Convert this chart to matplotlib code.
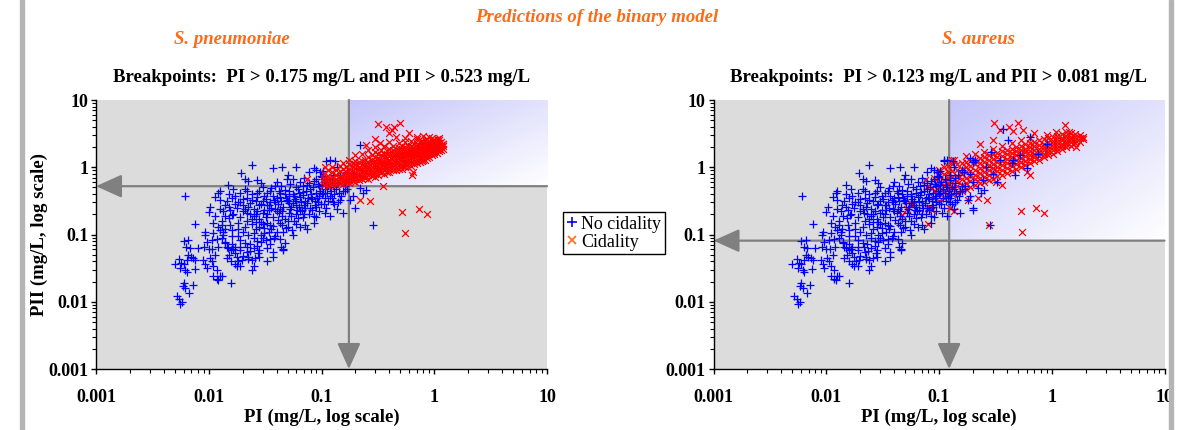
import numpy as np
import matplotlib
matplotlib.use('Agg')
import matplotlib.pyplot as plt
from matplotlib.lines import Line2D
from matplotlib.patches import Rectangle
from matplotlib.ticker import LogLocator, NullFormatter

plt.rcParams['font.family'] = ['Liberation Serif', 'DejaVu Serif']

# breakpoints (mg/L)
sp_bp_pi, sp_bp_pii = 0.175, 0.523
sa_bp_pi, sa_bp_pii = 0.123, 0.081

decade_ticks = [0.001, 0.01, 0.1, 1, 10]
decade_labels = ['0.001', '0.01', '0.1', '1', '10']

# (PI, PII) pairs in mg/L
# low-exposure "no cidality" isolates, same in both panels
shared_no_cidal = [
    (0.0052, 0.012), (0.0055, 0.011), (0.0056, 0.0093), (0.0058, 0.010),
    (0.0060, 0.019), (0.0059, 0.017), (0.0062, 0.016), (0.0072, 0.018), (0.0067, 0.0135),
    (0.0050, 0.036), (0.0055, 0.043), (0.0057, 0.038), (0.0060, 0.037), (0.0064, 0.042),
    (0.0066, 0.050), (0.0069, 0.047), (0.0062, 0.030), (0.0064, 0.028), (0.0075, 0.031),
    (0.0056, 0.032), (0.0076, 0.042), (0.0073, 0.045),
    (0.0061, 0.37),
    (0.0060, 0.079), (0.0066, 0.083), (0.0063, 0.065), (0.0068, 0.063),
    (0.0076, 0.144),
    (0.0080, 0.063), (0.0091, 0.065), (0.0092, 0.099), (0.0096, 0.077), (0.0100, 0.060),
    (0.0106, 0.083), (0.0100, 0.216),
    (0.0089, 0.042), (0.0093, 0.036), (0.0096, 0.032), (0.0102, 0.045), (0.0106, 0.040),
    (0.0110, 0.034), (0.0118, 0.030), (0.0114, 0.050),
    (0.0110, 0.024), (0.0118, 0.022), (0.0125, 0.024), (0.0121, 0.021), (0.0130, 0.024),
    (0.0158, 0.019),
    (0.0120, 0.130), (0.0125, 0.115), (0.0130, 0.138), (0.0135, 0.110), (0.0139, 0.120),
    (0.0121, 0.41), (0.0125, 0.44), (0.0149, 0.54), (0.0194, 0.81), (0.024, 1.08),
    (0.0135, 0.22), (0.0140, 0.186), (0.0152, 0.178), (0.0162, 0.196),
    (0.0140, 0.074), (0.0149, 0.063), (0.0158, 0.058), (0.0170, 0.053), (0.0152, 0.050),
    (0.0177, 0.047), (0.0183, 0.040), (0.0190, 0.034), (0.0177, 0.034), (0.0170, 0.036),
    (0.0196, 0.042),
    (0.0217, 0.066), (0.0233, 0.056), (0.0225, 0.047), (0.024, 0.042), (0.0258, 0.045),
    (0.0276, 0.053), (0.025, 0.034), (0.024, 0.030),
    (0.037, 0.047), (0.046, 0.060),
    (0.037, 0.98), (0.045, 1.0), (0.060, 1.0), (0.085, 0.98), (0.090, 0.92), (0.050, 0.77),
    (0.078, 0.85), (0.096, 0.86),
    (0.021, 0.66), (0.0225, 0.62), (0.027, 0.65), (0.029, 0.58), (0.040, 0.60), (0.049, 0.68),
    (0.053, 0.56), (0.056, 0.66), (0.065, 0.60), (0.074, 0.55), (0.085, 0.62), (0.093, 0.57),
    (0.070, 0.70), (0.044, 0.53),
    (0.0165, 0.47), (0.019, 0.42), (0.021, 0.48), (0.024, 0.40), (0.028, 0.45), (0.033, 0.42),
    (0.036, 0.49), (0.043, 0.41), (0.047, 0.46), (0.056, 0.40), (0.062, 0.48), (0.069, 0.43),
    (0.079, 0.47), (0.089, 0.41), (0.097, 0.45),
    (0.0114, 0.36), (0.0125, 0.33), (0.0145, 0.31), (0.016, 0.35), (0.018, 0.30), (0.020, 0.34),
    (0.023, 0.29), (0.027, 0.36), (0.030, 0.32), (0.035, 0.30), (0.040, 0.35), (0.044, 0.31),
    (0.049, 0.33), (0.056, 0.29), (0.065, 0.36), (0.071, 0.31), (0.082, 0.34), (0.094, 0.30),
    (0.060, 0.32), (0.052, 0.37), (0.038, 0.33),
    (0.0103, 0.26), (0.0125, 0.24), (0.0139, 0.27), (0.0155, 0.23), (0.0177, 0.25), (0.020, 0.22),
    (0.0225, 0.26), (0.025, 0.24), (0.028, 0.27), (0.031, 0.23), (0.036, 0.25), (0.040, 0.22),
    (0.046, 0.26), (0.053, 0.24), (0.060, 0.27), (0.067, 0.23), (0.079, 0.25), (0.089, 0.26),
    (0.033, 0.27), (0.043, 0.24),
    (0.0114, 0.19), (0.0165, 0.20), (0.019, 0.18), (0.0217, 0.21), (0.025, 0.19), (0.028, 0.17),
    (0.033, 0.20), (0.037, 0.18), (0.042, 0.21), (0.047, 0.17), (0.054, 0.19), (0.060, 0.20),
    (0.069, 0.18), (0.085, 0.19), (0.030, 0.21), (0.024, 0.17),
    (0.011, 0.15), (0.0155, 0.14), (0.018, 0.15), (0.021, 0.13), (0.024, 0.145), (0.028, 0.13),
    (0.033, 0.15), (0.037, 0.135), (0.043, 0.15), (0.050, 0.13), (0.060, 0.145), (0.071, 0.14),
    (0.026, 0.155), (0.031, 0.125),
    (0.0093, 0.11), (0.011, 0.105), (0.0135, 0.10), (0.016, 0.115), (0.018, 0.095), (0.020, 0.11),
    (0.0225, 0.10), (0.026, 0.12), (0.029, 0.10), (0.034, 0.11), (0.039, 0.095), (0.046, 0.11),
    (0.056, 0.10), (0.074, 0.12),
    (0.0118, 0.085), (0.014, 0.078), (0.016, 0.072), (0.019, 0.083), (0.021, 0.075), (0.025, 0.088),
    (0.029, 0.078), (0.035, 0.072), (0.043, 0.085), (0.047, 0.075), (0.032, 0.082),
    (0.0107, 0.06), (0.0145, 0.066), (0.0165, 0.06), (0.019, 0.065), (0.025, 0.062), (0.028, 0.058),
    (0.033, 0.064), (0.037, 0.055), (0.046, 0.058),
    (0.0145, 0.045), (0.0158, 0.041), (0.020, 0.048), (0.0225, 0.043), (0.028, 0.046), (0.033, 0.041),
    (0.015, 0.40), (0.017, 0.28), (0.022, 0.35), (0.026, 0.31), (0.031, 0.38), (0.034, 0.27),
    (0.039, 0.30), (0.042, 0.44), (0.048, 0.35), (0.051, 0.29), (0.058, 0.34), (0.063, 0.26),
    (0.068, 0.39), (0.075, 0.29), (0.080, 0.36), (0.087, 0.32), (0.095, 0.38), (0.099, 0.28),
    (0.020, 0.27), (0.023, 0.20), (0.027, 0.22), (0.029, 0.155), (0.032, 0.18), (0.035, 0.14),
    (0.039, 0.24), (0.045, 0.19), (0.052, 0.21), (0.057, 0.16), (0.064, 0.22), (0.072, 0.25),
    (0.077, 0.20), (0.018, 0.12), (0.022, 0.16), (0.025, 0.105), (0.030, 0.09), (0.036, 0.12),
    (0.041, 0.165), (0.048, 0.125), (0.016, 0.095), (0.019, 0.058), (0.023, 0.072), (0.027, 0.068),
    (0.031, 0.105), (0.038, 0.09), (0.044, 0.065),
    (0.013, 0.16), (0.015, 0.26), (0.017, 0.38), (0.019, 0.30), (0.021, 0.24), (0.022, 0.45),
    (0.024, 0.33), (0.026, 0.20), (0.027, 0.42), (0.029, 0.28), (0.030, 0.50), (0.032, 0.34),
    (0.034, 0.23), (0.035, 0.44), (0.037, 0.37), (0.039, 0.52), (0.041, 0.28), (0.043, 0.36),
    (0.045, 0.22), (0.047, 0.40), (0.050, 0.31), (0.052, 0.45), (0.054, 0.26), (0.057, 0.38),
    (0.059, 0.50), (0.061, 0.23), (0.063, 0.42), (0.066, 0.30), (0.068, 0.52), (0.070, 0.27),
    (0.073, 0.44), (0.076, 0.35), (0.078, 0.58), (0.081, 0.40), (0.084, 0.50), (0.087, 0.27),
    (0.090, 0.66), (0.092, 0.35), (0.095, 0.52), (0.098, 0.75), (0.100, 0.40), (0.102, 0.55),
    (0.108, 0.48), (0.112, 0.42), (0.118, 0.50), (0.122, 0.45), (0.128, 0.40), (0.135, 0.47),
    (0.142, 0.42), (0.150, 0.38), (0.160, 0.44), (0.170, 0.48), (0.115, 0.32), (0.125, 0.35),
    (0.140, 0.30), (0.105, 0.28), (0.095, 0.22), (0.085, 0.15), (0.065, 0.13), (0.055, 0.115),
    (0.040, 0.11), (0.035, 0.085), (0.027, 0.08), (0.022, 0.055), (0.017, 0.065), (0.013, 0.09),
    (0.012, 0.065), (0.030, 0.145), (0.045, 0.14), (0.050, 0.16), (0.062, 0.175), (0.070, 0.20),
    (0.082, 0.23), (0.090, 0.18),
    (0.110, 1.22), (0.118, 1.28), (0.133, 1.22), (0.137, 1.02), (0.103, 0.88), (0.126, 0.77),
    (0.146, 0.77), (0.168, 0.84), (0.19, 0.80), (0.22, 0.49), (0.25, 0.46), (0.235, 0.41),
    (0.19, 0.37), (0.18, 0.33), (0.20, 0.25), (0.285, 0.14), (0.137, 0.24), (0.155, 0.21),
    (0.118, 0.19), (0.103, 0.42), (0.108, 0.35), (0.12, 0.38), (0.126, 0.30), (0.11, 0.25),
    (0.13, 0.28), (0.107, 0.21), (0.145, 0.33), (0.155, 0.45), (0.105, 0.60), (0.115, 0.55),
    (0.13, 0.50), (0.14, 0.58), (0.16, 0.52), (0.125, 0.65), (0.10, 0.72), (0.112, 0.68),
]

# S. pneumoniae: extra no-cidality points and cidality points
sp_no_cidal = [(0.22, 2.15)]

sp_cidal = [
    (0.316, 4.4), (0.37, 4.0), (0.44, 4.0), (0.50, 4.5), (0.30, 2.6), (0.25, 2.17), (0.40, 3.2),
    (0.46, 2.85), (0.60, 3.2), (0.70, 2.85), (0.35, 0.53), (0.22, 0.33), (0.27, 0.32), (0.52, 0.215),
    (0.73, 0.24), (0.87, 0.20), (0.55, 0.107), (0.074, 0.66), (0.107, 1.02), (0.90, 2.85), (1.1, 2.7),
    (1.2, 2.2), (1.0, 1.7), (0.79, 1.3), (0.63, 0.77), (0.65, 0.86), (0.42, 3.6), (0.55, 2.7),
    (0.33, 2.3), (0.80, 2.9),
    (0.105, 0.55), (0.105, 0.62), (0.105, 0.70), (0.105, 0.80),
    (0.115, 0.53), (0.115, 0.58), (0.115, 0.66), (0.115, 0.75), (0.115, 0.90),
    (0.125, 0.56), (0.125, 0.63), (0.125, 0.72), (0.125, 0.85), (0.125, 1.0),
    (0.135, 0.54), (0.135, 0.60), (0.135, 0.68), (0.135, 0.78), (0.135, 0.92),
    (0.145, 0.58), (0.145, 0.66), (0.145, 0.74), (0.145, 0.88), (0.145, 1.05),
    (0.155, 0.56), (0.155, 0.62), (0.155, 0.70), (0.155, 0.80), (0.155, 0.95), (0.155, 1.15),
    (0.165, 0.60), (0.165, 0.68), (0.165, 0.76), (0.165, 0.86), (0.165, 1.0),
    (0.175, 0.58), (0.175, 0.65), (0.175, 0.72), (0.175, 0.82), (0.175, 0.93), (0.175, 1.1), (0.175, 1.3),
    (0.19, 0.62), (0.19, 0.70), (0.19, 0.78), (0.19, 0.88), (0.19, 1.0), (0.19, 1.15),
    (0.20, 0.60), (0.20, 0.67), (0.20, 0.75), (0.20, 0.85), (0.20, 0.96), (0.20, 1.1), (0.20, 1.25), (0.20, 1.5),
    (0.215, 0.64), (0.215, 0.72), (0.215, 0.80), (0.215, 0.90), (0.215, 1.02), (0.215, 1.2),
    (0.23, 0.66), (0.23, 0.75), (0.23, 0.84), (0.23, 0.95), (0.23, 1.08), (0.23, 1.25), (0.23, 1.6),
    (0.245, 0.70), (0.245, 0.78), (0.245, 0.88), (0.245, 1.0), (0.245, 1.12), (0.245, 1.3),
    (0.26, 0.68), (0.26, 0.76), (0.26, 0.85), (0.26, 0.95), (0.26, 1.05), (0.26, 1.2), (0.26, 1.4), (0.26, 1.8),
    (0.28, 0.74), (0.28, 0.82), (0.28, 0.92), (0.28, 1.02), (0.28, 1.15), (0.28, 1.3), (0.28, 1.5),
    (0.30, 0.72), (0.30, 0.80), (0.30, 0.90), (0.30, 1.0), (0.30, 1.1), (0.30, 1.25), (0.30, 1.4),
    (0.30, 1.7), (0.30, 2.0),
    (0.32, 0.78), (0.32, 0.88), (0.32, 0.98), (0.32, 1.1), (0.32, 1.22), (0.32, 1.38), (0.32, 1.6),
    (0.34, 0.82), (0.34, 0.92), (0.34, 1.02), (0.34, 1.15), (0.34, 1.3), (0.34, 1.5), (0.34, 1.8),
    (0.36, 0.80), (0.36, 0.90), (0.36, 1.0), (0.36, 1.12), (0.36, 1.25), (0.36, 1.4), (0.36, 1.6), (0.36, 2.1),
    (0.38, 0.86), (0.38, 0.96), (0.38, 1.08), (0.38, 1.2), (0.38, 1.35), (0.38, 1.55), (0.38, 1.75),
    (0.40, 0.85), (0.40, 0.95), (0.40, 1.05), (0.40, 1.18), (0.40, 1.3), (0.40, 1.45), (0.40, 1.65),
    (0.40, 1.9), (0.40, 2.4),
    (0.43, 0.90), (0.43, 1.0), (0.43, 1.12), (0.43, 1.25), (0.43, 1.4), (0.43, 1.6), (0.43, 1.8), (0.43, 2.1),
    (0.46, 0.92), (0.46, 1.02), (0.46, 1.15), (0.46, 1.28), (0.46, 1.45), (0.46, 1.65), (0.46, 1.85),
    (0.49, 0.95), (0.49, 1.08), (0.49, 1.2), (0.49, 1.35), (0.49, 1.5), (0.49, 1.7), (0.49, 1.95), (0.49, 2.3),
    (0.52, 0.95), (0.52, 1.06), (0.52, 1.18), (0.52, 1.32), (0.52, 1.48), (0.52, 1.65), (0.52, 1.85), (0.52, 2.1),
    (0.55, 1.0), (0.55, 1.12), (0.55, 1.25), (0.55, 1.4), (0.55, 1.56), (0.55, 1.75), (0.55, 2.0), (0.55, 2.35),
    (0.58, 1.02), (0.58, 1.15), (0.58, 1.3), (0.58, 1.45), (0.58, 1.62), (0.58, 1.82), (0.58, 2.05),
    (0.62, 1.05), (0.62, 1.2), (0.62, 1.35), (0.62, 1.5), (0.62, 1.68), (0.62, 1.88), (0.62, 2.1), (0.62, 2.45),
    (0.66, 1.1), (0.66, 1.25), (0.66, 1.4), (0.66, 1.56), (0.66, 1.75), (0.66, 1.95), (0.66, 2.2),
    (0.70, 1.15), (0.70, 1.3), (0.70, 1.45), (0.70, 1.62), (0.70, 1.8), (0.70, 2.0), (0.70, 2.25), (0.70, 2.6),
    (0.74, 1.2), (0.74, 1.35), (0.74, 1.52), (0.74, 1.7), (0.74, 1.9), (0.74, 2.1), (0.74, 2.35),
    (0.78, 1.25), (0.78, 1.4), (0.78, 1.58), (0.78, 1.76), (0.78, 1.95), (0.78, 2.15), (0.78, 2.45),
    (0.82, 1.3), (0.82, 1.46), (0.82, 1.64), (0.82, 1.82), (0.82, 2.0), (0.82, 2.22), (0.82, 2.5),
    (0.86, 1.36), (0.86, 1.52), (0.86, 1.7), (0.86, 1.88), (0.86, 2.08), (0.86, 2.3), (0.86, 2.6),
    (0.90, 1.42), (0.90, 1.58), (0.90, 1.76), (0.90, 1.95), (0.90, 2.15), (0.90, 2.4),
    (0.95, 1.5), (0.95, 1.66), (0.95, 1.84), (0.95, 2.02), (0.95, 2.22), (0.95, 2.45), (0.95, 2.7),
    (1.0, 1.56), (1.0, 1.74), (1.0, 1.92), (1.0, 2.1), (1.0, 2.3), (1.0, 2.55),
    (1.05, 1.64), (1.05, 1.82), (1.05, 2.0), (1.05, 2.2), (1.05, 2.4), (1.05, 2.65),
    (1.1, 1.72), (1.1, 1.9), (1.1, 2.08), (1.1, 2.28), (1.1, 2.5),
    (1.15, 1.8), (1.15, 1.98), (1.15, 2.16), (1.15, 2.36),
    (1.2, 1.9), (1.2, 2.06), (1.2, 2.25),
]

# S. aureus: extra no-cidality points inside the cidal cloud, and cidality points
sa_no_cidal = [
    (0.41, 2.54), (0.64, 2.8), (0.19, 1.38), (0.21, 1.28), (0.20, 1.2), (0.29, 1.7), (0.44, 1.16),
    (0.60, 0.97), (0.47, 0.77), (0.33, 0.61), (0.245, 0.65), (0.20, 0.61), (0.20, 0.23), (0.11, 1.28),
    (0.45, 1.28), (0.37, 3.7), (0.16, 0.90), (0.26, 1.0), (0.35, 1.3), (0.52, 1.5), (0.75, 1.6),
    (0.90, 2.2), (0.30, 0.80), (0.14, 0.70), (0.17, 0.52),
]

sa_cidal = [
    (0.047, 0.195), (0.052, 0.24), (0.057, 0.28), (0.075, 0.65), (0.078, 0.51), (0.086, 0.49),
    (0.080, 0.245), (0.086, 0.23), (0.080, 0.145), (0.083, 0.25), (0.058, 0.27), (0.11, 1.0),
    (0.135, 1.27), (0.125, 0.25), (0.135, 0.22), (0.18, 0.33), (0.22, 0.35), (0.265, 0.33),
    (0.28, 0.14), (0.53, 0.22), (0.72, 0.25), (0.86, 0.21), (0.55, 0.11), (0.64, 0.77), (0.60, 0.85),
    (0.36, 0.55), (0.32, 0.60),
    (0.31, 4.5), (0.50, 4.6), (0.42, 4.0), (0.45, 3.5), (0.35, 3.6), (1.3, 4.3), (1.43, 3.4),
    (1.85, 2.7), (1.55, 2.2), (1.65, 2.0), (0.23, 2.2), (0.30, 2.5), (0.25, 1.7), (0.56, 3.6),
    (0.70, 3.2), (0.90, 3.0), (1.1, 3.3),
    (0.09, 0.35), (0.09, 0.45), (0.09, 0.55), (0.09, 0.70),
    (0.10, 0.32), (0.10, 0.42), (0.10, 0.50), (0.10, 0.60), (0.10, 0.75), (0.10, 0.90),
    (0.11, 0.35), (0.11, 0.45), (0.11, 0.55), (0.11, 0.65), (0.11, 0.80),
    (0.12, 0.38), (0.12, 0.48), (0.12, 0.58), (0.12, 0.70), (0.12, 0.85), (0.12, 1.05),
    (0.13, 0.40), (0.13, 0.50), (0.13, 0.60), (0.13, 0.72), (0.13, 0.88), (0.13, 1.1), (0.13, 1.3),
    (0.145, 0.42), (0.145, 0.52), (0.145, 0.62), (0.145, 0.75), (0.145, 0.90), (0.145, 1.1),
    (0.16, 0.45), (0.16, 0.55), (0.16, 0.66), (0.16, 0.80), (0.16, 0.95), (0.16, 1.15),
    (0.175, 0.48), (0.175, 0.58), (0.175, 0.70), (0.175, 0.84), (0.175, 1.0), (0.175, 1.2), (0.175, 1.45),
    (0.19, 0.50), (0.19, 0.62), (0.19, 0.74), (0.19, 0.88), (0.19, 1.05), (0.19, 1.25),
    (0.21, 0.55), (0.21, 0.66), (0.21, 0.78), (0.21, 0.92), (0.21, 1.1), (0.21, 1.3), (0.21, 1.6),
    (0.23, 0.58), (0.23, 0.70), (0.23, 0.82), (0.23, 0.96), (0.23, 1.15), (0.23, 1.35),
    (0.25, 0.60), (0.25, 0.72), (0.25, 0.86), (0.25, 1.0), (0.25, 1.2), (0.25, 1.42),
    (0.275, 0.65), (0.275, 0.78), (0.275, 0.92), (0.275, 1.08), (0.275, 1.28), (0.275, 1.5),
    (0.30, 0.68), (0.30, 0.82), (0.30, 0.96), (0.30, 1.12), (0.30, 1.32), (0.30, 1.55), (0.30, 1.9),
    (0.33, 0.74), (0.33, 0.88), (0.33, 1.02), (0.33, 1.2), (0.33, 1.4), (0.33, 1.65),
    (0.36, 0.78), (0.36, 0.92), (0.36, 1.08), (0.36, 1.26), (0.36, 1.48), (0.36, 1.72), (0.36, 2.1),
    (0.40, 0.82), (0.40, 0.98), (0.40, 1.15), (0.40, 1.34), (0.40, 1.55), (0.40, 1.8),
    (0.44, 0.88), (0.44, 1.04), (0.44, 1.22), (0.44, 1.42), (0.44, 1.65), (0.44, 1.9), (0.44, 2.3),
    (0.48, 0.95), (0.48, 1.1), (0.48, 1.3), (0.48, 1.5), (0.48, 1.72), (0.48, 2.0),
    (0.53, 1.0), (0.53, 1.18), (0.53, 1.38), (0.53, 1.58), (0.53, 1.8), (0.53, 2.1), (0.53, 2.5),
    (0.58, 1.08), (0.58, 1.25), (0.58, 1.45), (0.58, 1.66), (0.58, 1.9), (0.58, 2.2),
    (0.64, 1.15), (0.64, 1.32), (0.64, 1.52), (0.64, 1.74), (0.64, 2.0), (0.64, 2.3), (0.64, 2.7),
    (0.70, 1.22), (0.70, 1.4), (0.70, 1.6), (0.70, 1.82), (0.70, 2.08), (0.70, 2.4),
    (0.77, 1.3), (0.77, 1.48), (0.77, 1.68), (0.77, 1.9), (0.77, 2.15), (0.77, 2.5),
    (0.85, 1.4), (0.85, 1.58), (0.85, 1.78), (0.85, 2.0), (0.85, 2.25), (0.85, 2.6),
    (0.93, 1.5), (0.93, 1.68), (0.93, 1.88), (0.93, 2.1), (0.93, 2.35), (0.93, 2.7),
    (1.02, 1.6), (1.02, 1.8), (1.02, 2.0), (1.02, 2.22), (1.02, 2.48), (1.02, 2.8),
    (1.12, 1.72), (1.12, 1.92), (1.12, 2.12), (1.12, 2.35), (1.12, 2.6), (1.12, 2.9),
    (1.23, 1.85), (1.23, 2.05), (1.23, 2.25), (1.23, 2.5), (1.23, 2.75), (1.23, 3.1),
    (1.35, 2.0), (1.35, 2.2), (1.35, 2.4), (1.35, 2.65), (1.35, 2.9), (1.35, 3.3),
    (1.48, 2.1), (1.48, 2.35), (1.48, 2.6), (1.48, 2.85), (1.48, 3.2),
    (1.62, 2.3), (1.62, 2.55), (1.62, 2.8), (1.62, 3.1),
    (1.78, 2.4), (1.78, 2.7), (1.78, 3.0),
    (1.9, 2.6), (1.9, 2.8),
]

orange = '#ff6a13'
blue = '#0000ff'
red = '#ff0000'
line_grey = '#808080'
txt = 13.5


def draw_panel(ax, bp_pi, bp_pii, no_cidal, cidal, blue_on_top):
    ax.set_xscale('log')
    ax.set_yscale('log')
    ax.set_facecolor('#dcdcdc')

    # shaded "both breakpoints exceeded" corner
    fx = (np.log10(bp_pi) + 3) / 4
    fy = (np.log10(bp_pii) + 3) / 4
    u = np.linspace(0, 1, 200)
    uu, vv = np.meshgrid(u, u)
    t = (uu + vv) / 2
    c0 = np.array([0.77, 0.77, 0.98])
    c1 = np.array([1.0, 1.0, 1.0])
    grad = c0[None, None, :] * (1 - t[..., None]) + c1[None, None, :] * t[..., None]
    ax.imshow(grad, extent=[fx, 1, fy, 1], transform=ax.transAxes, origin='upper',
              aspect='auto', zorder=0, interpolation='bilinear')

    arrow = dict(arrowstyle='-|>,head_length=0.8,head_width=0.36', mutation_scale=20,
                 color=line_grey, lw=1.6, shrinkA=0, shrinkB=0)
    ax.annotate('', xy=(0.001, bp_pii), xytext=(10, bp_pii), arrowprops=arrow, zorder=1)
    ax.annotate('', xy=(bp_pi, 0.001), xytext=(bp_pi, 10), arrowprops=arrow, zorder=1)

    nb = np.array(no_cidal).T
    cd = np.array(cidal).T
    z_blue = 3 if blue_on_top else 2
    ax.scatter(nb[0], nb[1], marker='+', s=34, c=blue, linewidths=0.9, zorder=z_blue)
    ax.scatter(cd[0], cd[1], marker='x', s=24, c=red, linewidths=0.9, zorder=5 - z_blue)

    ax.set_xlim(0.001, 10)
    ax.set_ylim(0.001, 10)
    ax.set_xticks(decade_ticks, decade_labels, fontweight='bold', fontsize=13)
    ax.set_yticks(decade_ticks, decade_labels, fontweight='bold', fontsize=13)
    for axis in (ax.xaxis, ax.yaxis):
        axis.set_minor_locator(LogLocator(base=10, subs=np.arange(2, 10), numticks=20))
        axis.set_minor_formatter(NullFormatter())
    ax.tick_params(which='major', length=3.5, width=1, direction='out', color='black')
    ax.tick_params(which='minor', length=3, width=0.8, direction='out', color='black')
    ax.tick_params(axis='x', which='major', pad=11)
    ax.tick_params(axis='y', which='major', pad=2)
    ax.spines['top'].set_visible(False)
    ax.spines['right'].set_visible(False)
    ax.spines['left'].set_linewidth(1)
    ax.spines['bottom'].set_linewidth(1)
    ax.set_xlabel('PI (mg/L, log scale)', fontweight='bold', fontsize=txt, labelpad=2)
    ax.set_title('Breakpoints:  PI > %s mg/L and PII > %s mg/L' % (bp_pi, bp_pii),
                 fontweight='bold', fontsize=txt, pad=13)


fig = plt.figure(figsize=(11.82, 4.30), dpi=100)
ax1 = fig.add_axes([96 / 1182, 61 / 430, 451 / 1182, 269 / 430])
ax2 = fig.add_axes([713.5 / 1182, 61 / 430, 451 / 1182, 269 / 430])

draw_panel(ax1, sp_bp_pi, sp_bp_pii, shared_no_cidal + sp_no_cidal, sp_cidal, False)
draw_panel(ax2, sa_bp_pi, sa_bp_pii, shared_no_cidal + sa_no_cidal, sa_cidal, True)
ax1.set_ylabel('PII (mg/L, log scale)', fontweight='bold', fontsize=txt, labelpad=0)

fig.text(597 / 1182, 1 - 17 / 430, 'Predictions of the binary model', color=orange,
         fontsize=txt, fontweight='bold', fontstyle='italic', ha='center', va='center')
fig.text(232 / 1182, 1 - 40 / 430, 'S. pneumoniae', color=orange,
         fontsize=txt, fontweight='bold', fontstyle='italic', ha='center', va='center')
fig.text(978 / 1182, 1 - 40 / 430, 'S. aureus', color=orange,
         fontsize=txt, fontweight='bold', fontstyle='italic', ha='center', va='center')

handles = [Line2D([], [], ls='none', marker='+', color=blue, markersize=7, mew=1.2),
           Line2D([], [], ls='none', marker='x', color=orange, markersize=6, mew=1.2)]
leg = fig.legend(handles, ['No cidality', 'Cidality'], loc='upper left',
                 bbox_to_anchor=(563 / 1182, 1 - 212 / 430), fontsize=13,
                 frameon=True, fancybox=False, edgecolor='black', framealpha=1,
                 handlelength=0.6, handletextpad=0.2, borderpad=0.2, labelspacing=0.05,
                 borderaxespad=0)
leg.get_frame().set_linewidth(1)

# grey page borders
for x0 in (20, 1169):
    fig.patches.append(Rectangle((x0 / 1182, 0), 4 / 1182, 1, transform=fig.transFigure,
                                 color='#b4b4b4', zorder=0))

fig.savefig('out.png', dpi=100)
